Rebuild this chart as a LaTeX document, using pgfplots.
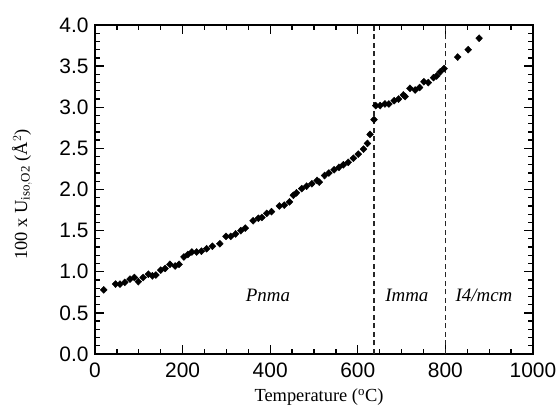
\documentclass[border=0pt]{standalone}
\usepackage{fontspec}
\setmainfont{Liberation Serif}
\setsansfont{Liberation Sans}
\usepackage{pgfplots}
\pgfplotsset{compat=1.18}

\begin{document}
\begin{tikzpicture}
\begin{axis}[
  name=ax,
  scale only axis,
  width=438bp, height=329bp,
  xmin=0, xmax=1000, ymin=0, ymax=4,
  xtick={0,200,...,1000}, ytick={0,0.5,...,4},
  minor x tick num=3, minor y tick num=4,
  tick align=inside,
  major tick length=9bp, minor tick length=5bp,
  axis line style={line width=1.6bp},
  every tick/.style={black, line width=1.3bp},
  /pgf/number format/assume math mode=true,
  /pgf/number format/fixed,
  yticklabel style={/pgf/number format/precision=1,/pgf/number format/fixed zerofill, xshift=-3bp},
  xticklabel style={/pgf/number format/1000 sep={}, yshift=-5bp},
  tick label style={font=\sffamily\fontsize{21}{23}\selectfont},
]
\addplot[only marks, mark=diamond*, mark size=3.5bp, mark options={xscale=1.3}, black]
coordinates {
(20,0.78)(47,0.85)(57,0.85)(68,0.87)(80,0.91)(90,0.93)(99,0.88)(110,0.93)
(122,0.97)(131,0.95)(139,0.96)(150,1.02)(160,1.04)(171,1.09)(183,1.07)
(192,1.09)(203,1.18)(212,1.21)(221,1.24)(232,1.24)(243,1.25)(255,1.28)
(268,1.31)(285,1.34)(299,1.43)(310,1.43)(321,1.46)(333,1.50)(343,1.53)
(361,1.62)(373,1.65)(381,1.66)(392,1.71)(403,1.73)(421,1.80)(432,1.81)
(444,1.85)(453,1.93)(460,1.96)(472,2.01)(483,2.04)(495,2.07)(507,2.11)
(512,2.09)(524,2.17)(534,2.20)(546,2.24)(557,2.27)(567,2.30)(578,2.33)
(590,2.38)(601,2.43)(613,2.49)(622,2.56)(628,2.67)(637,2.85)
(641,3.02)(651,3.02)(662,3.04)(671,3.04)(683,3.08)(693,3.10)(704,3.15)
(708,3.13)(719,3.23)(731,3.21)(741,3.24)(751,3.31)(761,3.30)(773,3.36)
(780,3.38)(788,3.43)(797,3.47)(828,3.61)(852,3.70)(877,3.84)
};
\addplot[black!85, line width=1.1bp, dash pattern=on 5bp off 3.5bp] coordinates {(637,0)(637,4)};
\addplot[black!85, line width=1.1bp, dash pattern=on 5bp off 3.5bp] coordinates {(800,0)(800,4)};
\node[font=\itshape\fontsize{19}{21}\selectfont] at (axis cs:395,0.71) {Pnma};
\node[font=\itshape\fontsize{19}{21}\selectfont] at (axis cs:712,0.71) {Imma};
\node[font=\itshape\fontsize{19}{21}\selectfont] at (axis cs:888,0.71) {I4/mcm};
\end{axis}
\node[font=\fontsize{18.5}{20}\selectfont] at ([xshift=5bp,yshift=-43bp]ax.south) {Temperature ($^{\mathrm{o}}$C)};
\node[rotate=90, font=\fontsize{18.5}{20}\selectfont] at ([xshift=-73bp,yshift=-5bp]ax.west) {100 x U$_{\mathrm{iso,O2}}$ (Å$^{2}$)};
\pgfresetboundingbox
\path[use as bounding box] ([xshift=-95bp,yshift=-57bp]ax.south west) rectangle ([xshift=24bp,yshift=25bp]ax.north east);
\end{tikzpicture}
\end{document}
